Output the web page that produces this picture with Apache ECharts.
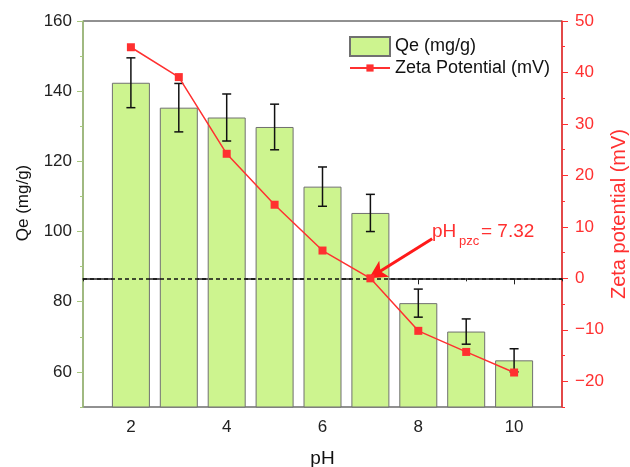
<!DOCTYPE html>
<html>
<head>
<meta charset="utf-8">
<script src="https://cdn.jsdelivr.net/npm/echarts@6/dist/echarts.min.js"></script>
<style>html,body{margin:0;padding:0;background:#fff;}#c{width:630px;height:467px;}</style>
</head>
<body>
<div id="c"></div>
<script>
const pH = [2, 3, 4, 5, 6, 7, 8, 9, 10];
const qe = [142.4, 135.3, 132.5, 129.8, 112.8, 105.3, 79.6, 71.5, 63.3];
const qeErr = [7.1, 6.9, 6.7, 6.5, 5.6, 5.3, 4.0, 3.6, 3.3];
const zeta = [44.9, 39.1, 24.2, 14.3, 5.4, 0.0, -10.2, -14.3, -18.3];
const xTickLabels = [2, 4, 6, 8, 10];
const xMinorTicks = [1, 3, 5, 7, 9, 11];
const qeTickLabels = [60, 80, 100, 120, 140, 160];
const qeMinorTicks = [50, 70, 90, 110, 130, 150];
const zetaTickLabels = [-20, -10, 0, 10, 20, 30, 40, 50];
const zetaMinorTicks = [-25, -15, -5, 5, 15, 25, 35, 45];
const pzcLine = 0;
const arrowFrom = [8.29, 7.7];
const arrowTo = [6.97, 0];

const FONT = 'Liberation Sans, Arial, sans-serif';
const GREEN_AX = '#a6c77d';
const RED = '#ff3030';

const chart = echarts.init(document.getElementById('c'));
const qeData = pH.map((x, i) => [x, qe[i]]);
const errData = pH.map((x, i) => [x, qe[i] - qeErr[i], qe[i] + qeErr[i]]);
const zetaData = pH.map((x, i) => [x, zeta[i]]);

chart.setOption({
  animation: false,
  textStyle: { fontFamily: FONT },
  grid: { left: 83, right: 68, top: 21, bottom: 60, outerBoundsMode: 'none', containLabel: false,
    show: true, borderColor: '#222', borderWidth: 1, backgroundColor: 'transparent' },
  legend: [{
    left: 349, top: 36, orient: 'vertical', padding: 0,
    itemWidth: 40, itemHeight: 19,
    textStyle: { fontSize: 18, color: '#111', fontFamily: FONT },
    data: [{ name: 'Qe (mg/g)', icon: 'rect' }]
  }, {
    left: 349, top: 59, orient: 'vertical', padding: 0,
    itemWidth: 40, itemHeight: 9,
    textStyle: { fontSize: 18, color: '#111', fontFamily: FONT },
    lineStyle: { width: 2 },
    data: ['Zeta Potential (mV)']
  }],
  xAxis: [{
    type: 'value', min: 1, max: 11, interval: 1,
    name: 'pH', nameLocation: 'middle', nameGap: 42, nameMoveOverlap: false,
    nameTextStyle: { fontSize: 19, color: '#111', fontFamily: FONT },
    axisLine: { lineStyle: { color: '#222', width: 1.5 } },
    axisTick: { customValues: xTickLabels, length: 6, lineStyle: { color: '#222' } },
    axisLabel: { customValues: xTickLabels, fontSize: 17, color: '#222', margin: 12, fontFamily: FONT },
    splitLine: { show: false }
  }, {
    type: 'value', min: 1, max: 11, interval: 1, position: 'bottom',
    axisLine: { show: false },
    axisTick: { customValues: xMinorTicks, length: 3, lineStyle: { color: '#222' } },
    axisLabel: { show: false }, splitLine: { show: false }
  }],
  yAxis: [{
    type: 'value', min: 50, max: 160, interval: 10, position: 'left',
    name: 'Qe (mg/g)', nameLocation: 'middle', nameGap: 51, nameMoveOverlap: false,
    nameTextStyle: { fontSize: 17, color: '#111', fontFamily: FONT, padding: [0, 0, 0, 22] },
    axisLine: { show: true, lineStyle: { color: GREEN_AX, width: 1.5 } },
    axisTick: { customValues: qeTickLabels, length: 6, lineStyle: { color: GREEN_AX } },
    axisLabel: { customValues: qeTickLabels, fontSize: 17, color: '#222', margin: 11, fontFamily: FONT },
    splitLine: { show: false }
  }, {
    type: 'value', min: -25, max: 50, interval: 5, position: 'right',
    name: 'Zeta potential (mV)', nameLocation: 'middle', nameGap: 47, nameMoveOverlap: false,
    nameTextStyle: { fontSize: 20, color: RED, fontFamily: FONT },
    axisLine: { show: true, lineStyle: { color: RED, width: 1.5 } },
    axisTick: { customValues: zetaTickLabels, length: 6, lineStyle: { color: RED } },
    axisLabel: { customValues: zetaTickLabels, fontSize: 17, color: RED, margin: 13, fontFamily: FONT,
      formatter: v => String(v).replace('-', '\u2212') },
    splitLine: { show: false }
  }, {
    type: 'value', min: 50, max: 160, interval: 10, position: 'left',
    axisLine: { show: false },
    axisTick: { customValues: qeMinorTicks, length: 3, lineStyle: { color: GREEN_AX } },
    axisLabel: { show: false }, splitLine: { show: false }
  }, {
    type: 'value', min: -25, max: 50, interval: 5, position: 'right',
    axisLine: { show: false },
    axisTick: { customValues: zetaMinorTicks, length: 3, lineStyle: { color: RED } },
    axisLabel: { show: false }, splitLine: { show: false }
  }],
  graphic: [
    { type: 'text', left: 432, top: 222, z: 100, style: { text: 'pH', font: '19px ' + FONT, fill: RED } },
    { type: 'text', left: 459, top: 235, z: 100, style: { text: 'pzc', font: '13px ' + FONT, fill: RED } },
    { type: 'text', left: 481, top: 222, z: 100, style: { text: '= 7.32', font: '19px ' + FONT, fill: RED } }
  ],
  series: [{
    name: 'Qe (mg/g)', type: 'bar', xAxisIndex: 0, yAxisIndex: 0,
    data: qeData, barWidth: 38,
    itemStyle: { color: '#cdf48f', borderColor: '#707070', borderWidth: 1 },
    z: 2
  }, {
    name: 'err', type: 'custom', xAxisIndex: 0, yAxisIndex: 0, data: errData, z: 5,
    renderItem: function (params, api) {
      const lo = api.coord([api.value(0), api.value(1)]);
      const hi = api.coord([api.value(0), api.value(2)]);
      const w = 4.5;
      const st = { stroke: '#111', lineWidth: 1.5 };
      return { type: 'group', children: [
        { type: 'line', shape: { x1: lo[0], y1: lo[1], x2: hi[0], y2: hi[1] }, style: st },
        { type: 'line', shape: { x1: lo[0] - w, y1: lo[1], x2: lo[0] + w, y2: lo[1] }, style: st },
        { type: 'line', shape: { x1: hi[0] - w, y1: hi[1], x2: hi[0] + w, y2: hi[1] }, style: st }
      ] };
    }
  }, {
    name: 'Zeta Potential (mV)', type: 'line', xAxisIndex: 0, yAxisIndex: 1,
    data: zetaData, symbol: 'rect', symbolSize: 8, z: 10,
    lineStyle: { color: RED, width: 1.5 }, itemStyle: { color: RED },
    markLine: {
      silent: true, animation: false,
      symbol: ['none', 'none'],
      label: { show: false },
      data: [
        { yAxis: pzcLine, lineStyle: { color: '#111', type: [4, 3], width: 1.5 } },
        [
          { coord: arrowFrom, symbol: 'none', lineStyle: { color: '#ff1a1a', type: 'solid', width: 3 } },
          { coord: arrowTo, symbol: 'arrow', symbolSize: [14, 18] }
        ]
      ]
    }
  }]
});
</script>
</body>
</html>
